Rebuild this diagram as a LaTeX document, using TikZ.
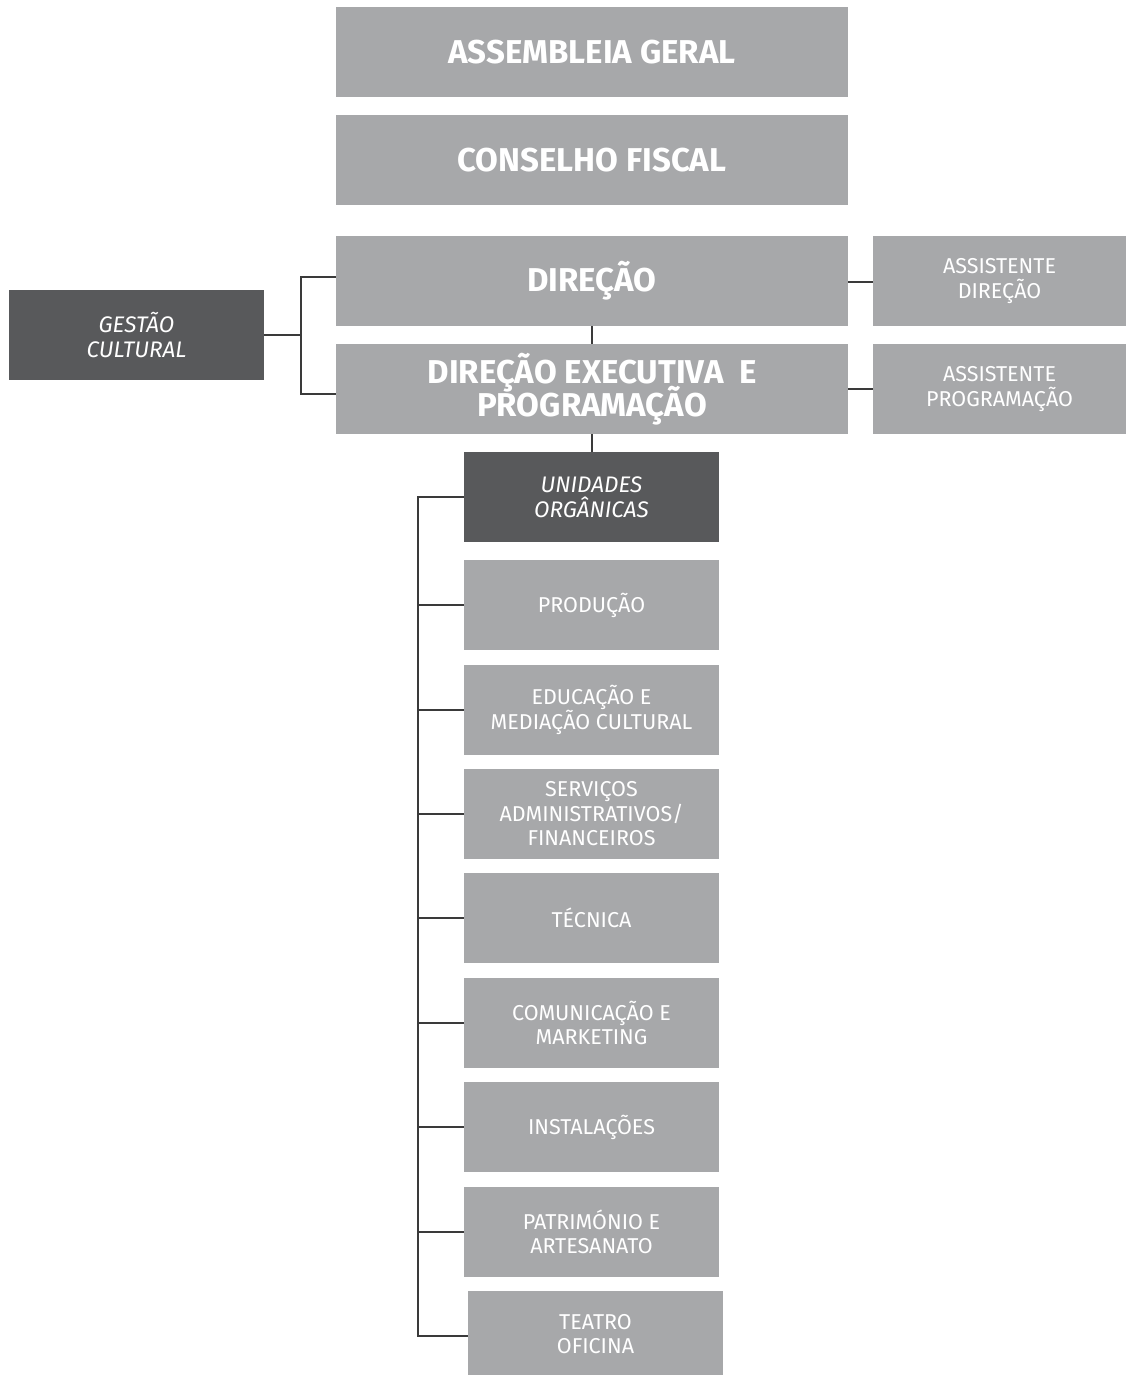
\documentclass[tikz,border=0pt]{standalone}
\usepackage{fontspec}
\setmainfont{Fira Sans}
\newcommand\mynolsk{\lineskiplimit-100pt\relax\lineskip0pt\relax}
\begin{document}
\begin{tikzpicture}[x=1pt,y=-1pt,
  lightbox/.style={fill=boxlight,draw=none,minimum width=#1,minimum height=90pt,inner sep=0pt,align=center,text=white},
  lightbox/.default=255pt,
  darkbox/.style={lightbox,fill=boxdark,font=\fontsize{22.5}{24.5}\selectfont\itshape\mynolsk},
  bigtext/.style={font=\fontsize{33}{33}\selectfont\bfseries\mynolsk},
  smalltext/.style={font=\fontsize{21.5}{24.5}\selectfont\mynolsk},
  conn/.style={draw=linec,line width=1.6pt}]
\definecolor{boxlight}{HTML}{A7A8AA}
\definecolor{boxdark}{HTML}{58595B}
\definecolor{linec}{HTML}{3A3A3A}
\useasboundingbox (0,0) rectangle (1126,1375);
% top column
\node[lightbox=512pt,bigtext] (ag) at (592,52) {ASSEMBLEIA GERAL};
\node[lightbox=512pt,bigtext] (cf) at (592,160) {CONSELHO FISCAL};
\node[lightbox=512pt,bigtext] (dir) at (592,281) {DIREÇÃO};
\node[lightbox=512pt,bigtext] (dex) at (592,389) {DIREÇÃO EXECUTIVA\ \ E\\PROGRAMAÇÃO};
\node[lightbox=253pt,smalltext] (adir) at (999.5,281) {ASSISTENTE\\DIREÇÃO};
\node[lightbox=253pt,smalltext] (aprog) at (999.5,389) {ASSISTENTE\\PROGRAMAÇÃO};
\node[darkbox] (gc) at (136.5,335) {GESTÃO\\CULTURAL};
\node[darkbox] (uo) at (591.5,497) {UNIDADES\\ORGÂNICAS};
\node[lightbox,smalltext] (prod) at (591.5,605) {PRODUÇÃO};
\node[lightbox,smalltext] (edu) at (591.5,710) {EDUCAÇÃO E\\MEDIAÇÃO CULTURAL};
\node[lightbox,smalltext] (serv) at (591.5,814) {SERVIÇOS\\ADMINISTRATIVOS/\\FINANCEIROS};
\node[lightbox,smalltext] (tec) at (591.5,918) {TÉCNICA};
\node[lightbox,smalltext] (com) at (591.5,1023) {COMUNICAÇÃO E\\MARKETING};
\node[lightbox,smalltext] (inst) at (591.5,1127) {INSTALAÇÕES};
\node[lightbox,smalltext] (pat) at (591.5,1232) {PATRIMÓNIO E\\ARTESANATO};
\node[lightbox,smalltext,minimum height=86pt] (teatro) at (595.5,1334) {TEATRO\\OFICINA};
% connectors
\coordinate (gj) at (301,335);
\draw[conn] (gc.east) -- (gj);
\draw[conn] (dir.west |- 0,277) -| (gj) |- (dex.west |- 0,394);
\draw[conn] (dir.east |- 0,282) -- (adir.west |- 0,282);
\draw[conn] (dex.east |- 0,389) -- (aprog.west |- 0,389);
\draw[conn] (dir.south) -- (dex.north);
\draw[conn] (dex.south) -- (dex.south |- uo.north);
\coordinate (top) at (418,497);
\coordinate (bot) at (418,1336);
\draw[conn] (uo.west) -- (top) -- (bot) -- (teatro.west |- bot);
\foreach \n in {prod,edu,serv,tec,com,inst,pat}
  \draw[conn] (top |- \n.west) -- (\n.west);
\end{tikzpicture}
\end{document}
